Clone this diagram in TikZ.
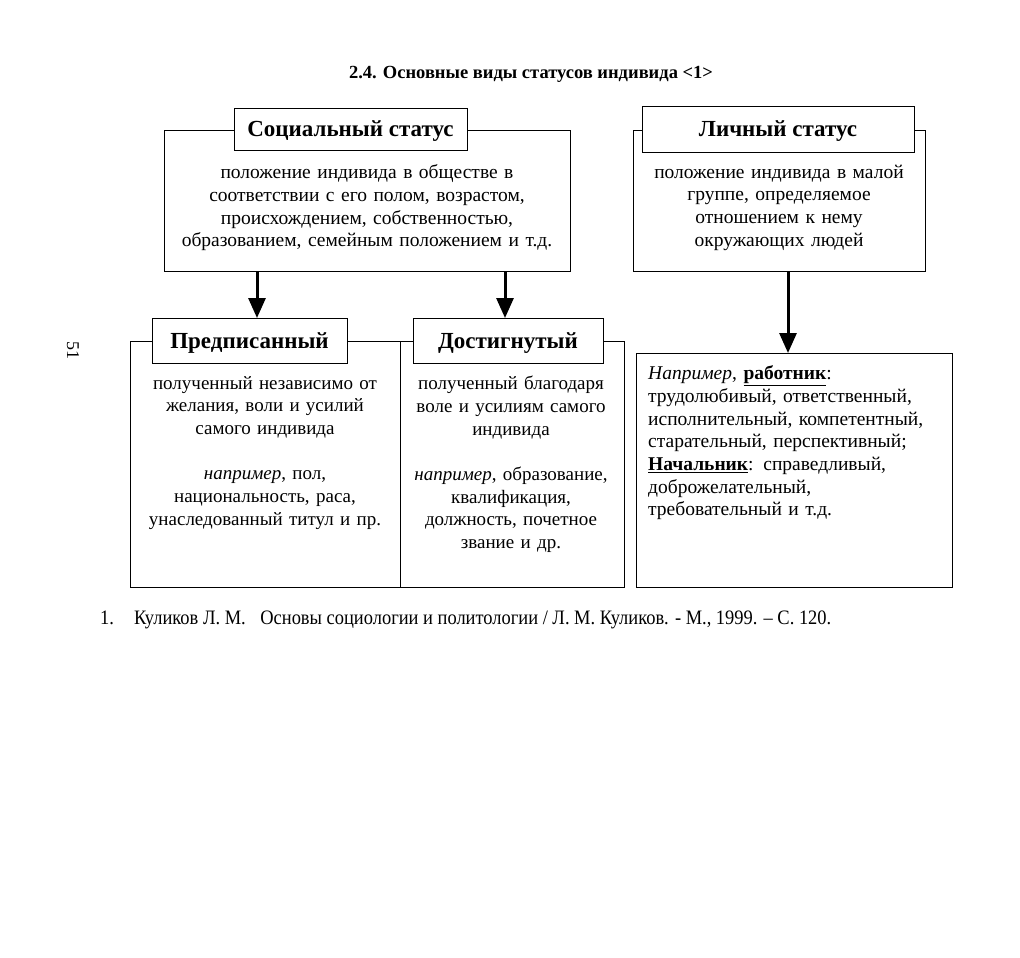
\documentclass[tikz,border=0pt]{standalone}
\usepackage{fontspec}
\setmainfont{Liberation Serif}
\newfontfamily\narrowfont[FakeStretch=0.9]{Liberation Serif}
\usetikzlibrary{arrows.meta}
\begin{document}
\begin{tikzpicture}[x=1pt,y=-1pt,
 box/.style={draw, line width=1pt, inner sep=0pt, outer sep=0pt},
 ttl/.style={box, fill=white, text depth=0pt, font=\fontsize{23}{27}\selectfont\bfseries},
 txt/.style={align=center, font=\fontsize{19.5}{22.7}\selectfont, inner sep=0pt, anchor=north},
 arr/.style={line width=3pt, -{Triangle[width=17pt,length=20pt]}}]
\useasboundingbox (0,0) rectangle (1020,958);

\node[font=\fontsize{18.5}{22}\selectfont\bfseries] (head) at (531,74) {2.4. Основные виды статусов индивида <1>};
\node[rotate=-90, font=\fontsize{18}{20}\selectfont] (page) at (73,350) {51};

% upper boxes
\node[box, minimum width=406pt, minimum height=141pt] (social) at (367,200.5) {};
\node[ttl, minimum width=233pt, minimum height=42pt] (socialt) at (350.5,129) {Социальный статус};
\node[txt, text width=400pt] (socialx) at (367,164.5) {положение индивида в обществе в\\соответствии с его полом, возрастом,\\происхождением, собственностью,\\образованием, семейным положением и т.д.};

\node[box, minimum width=292pt, minimum height=141pt] (pers) at (779,200.5) {};
\node[ttl, minimum width=272pt, minimum height=46pt] (perst) at (778,129) {Личный статус};
\node[txt, text width=286pt] (persx) at (779,164.5) {положение индивида в малой\\группе, определяемое\\отношением к нему\\окружающих людей};

% lower boxes
\node[box, minimum width=270pt, minimum height=246pt] (pred) at (265,464) {};
\node[box, minimum width=224pt, minimum height=246pt] (dost) at (512,464) {};
\node[ttl, minimum width=195pt, minimum height=45pt] (predt) at (249.5,340.5) {Предписанный};
\node[ttl, minimum width=190pt, minimum height=45pt] (dostt) at (508,340.5) {Достигнутый};
\node[txt, text width=264pt, font=\fontsize{19}{22.7}\selectfont] (predx) at (265,375.8) {полученный независимо от\\желания, воли и усилий\\самого индивида\\[22.7pt]\textit{например}, пол,\\национальность, раса,\\унаследованный титул и пр.};
\node[txt, text width=220pt, font=\fontsize{19}{22.7}\selectfont] (dostx) at (511,375.8) {полученный благодаря\\воле и усилиям самого\\индивида\\[22.7pt]\textit{например}, образование,\\квалификация,\\должность, почетное\\звание и др.};

\node[box, minimum width=316pt, minimum height=234pt] (ex) at (794,470) {};
\node[txt, anchor=north west, align=left, text width=300pt] (exx) at (648,365.5) {\textit{Например}, \underline{\textbf{работник}}:\\трудолюбивый, ответственный,\\исполнительный, компетентный,\\старательный, перспективный;\\\underline{\textbf{Начальник}}: справедливый,\\доброжелательный,\\требовательный и т.д.};

% arrows
\draw[arr] ([xshift=7.5pt]social.south -| predt.north) -- ([xshift=7.5pt]predt.north);
\draw[arr] ([xshift=-3pt]social.south -| dostt.north) -- ([xshift=-3pt]dostt.north);
\draw[arr] ([xshift=-6pt]pers.south -| ex.north) -- ([xshift=-6pt]ex.north);

% footnote
\node[anchor=base west, font=\narrowfont\fontsize{20.5}{24}\selectfont, inner sep=0pt] (foot) at (100,624) {1.\hspace{20pt}Куликов Л. М.\hspace{10pt} Основы социологии и политологии / Л. М. Куликов. - М., 1999. – С. 120.};
\end{tikzpicture}
\end{document}
